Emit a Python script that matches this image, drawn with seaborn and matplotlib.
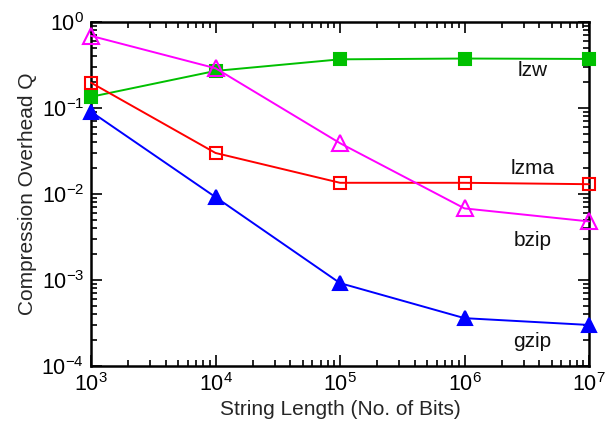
import matplotlib
matplotlib.use("Agg")
import matplotlib.pyplot as plt
import seaborn as sns
import numpy as np
import pandas as pd
from matplotlib.ticker import LogLocator, NullFormatter

lengths = [1e3, 1e4, 1e5, 1e6, 1e7]
lzw = [0.135, 0.27, 0.368, 0.376, 0.372]
lzma = [0.197, 0.030, 0.0135, 0.0135, 0.013]
bzip = [0.69, 0.29, 0.039, 0.0068, 0.0048]
gzip = [0.0905, 0.0092, 0.00092, 0.00036, 0.00030]

series_names = ["lzw", "lzma", "bzip", "gzip"]
series_vals = [lzw, lzma, bzip, gzip]
colors = {"lzw": "#00c000", "lzma": "#ff0000", "bzip": "#ff00ff", "gzip": "#0000ff"}
markers = {"lzw": "s", "lzma": "s", "bzip": "^", "gzip": "^"}
filled = {"lzw": True, "lzma": False, "bzip": False, "gzip": True}
msize = {"lzw": 9, "lzma": 9, "bzip": 11, "gzip": 10}
label_pos = {"lzw": (3.5e6, 0.27), "lzma": (3.5e6, 0.02), "bzip": (3.5e6, 0.0029), "gzip": (3.5e6, 0.000195)}

sns.set_style("ticks")
plt.rcParams["font.family"] = ["Liberation Sans", "DejaVu Sans"]
plt.rcParams["mathtext.default"] = "regular"

fig = plt.figure(figsize=(6.05, 4.29), dpi=100)
ax = fig.add_axes([91 / 605, 1 - 366 / 429, 498 / 605, 344 / 429])

for name, vals in zip(series_names, series_vals):
    df = pd.DataFrame({"x": lengths, "y": vals})
    c = colors[name]
    sns.lineplot(data=df, x="x", y="y", ax=ax, color=c, lw=1.4,
                 marker=markers[name], markersize=msize[name],
                 markerfacecolor=c if filled[name] else "none",
                 markeredgecolor=c, markeredgewidth=1.5, clip_on=False, zorder=3)
    ax.text(*label_pos[name], name, fontsize=15, ha="center", va="center", color="#111111")

ax.set_xscale("log")
ax.set_yscale("log")
ax.set_xlim(1e3, 1e7)
ax.set_ylim(1e-4, 1e0)
ax.xaxis.set_major_locator(LogLocator(base=10, numticks=10))
ax.yaxis.set_major_locator(LogLocator(base=10, numticks=10))
ax.xaxis.set_minor_locator(LogLocator(base=10, subs=np.arange(2, 10), numticks=20))
ax.yaxis.set_minor_locator(LogLocator(base=10, subs=np.arange(2, 10), numticks=20))
ax.xaxis.set_minor_formatter(NullFormatter())
ax.yaxis.set_minor_formatter(NullFormatter())

for s in ax.spines.values():
    s.set_linewidth(1.8)
    s.set_color("black")
    s.set_visible(True)
ax.tick_params(which="both", direction="in", top=True, right=True, width=1.2, colors="black")
ax.tick_params(which="major", length=8, labelsize=15.5, pad=5)
ax.tick_params(which="minor", length=4)

ax.set_xlabel("String Length (No. of Bits)", fontsize=15, labelpad=3)
ax.set_ylabel("Compression Overhead Q", fontsize=15, labelpad=3)

fig.savefig("out.png", dpi=100)
